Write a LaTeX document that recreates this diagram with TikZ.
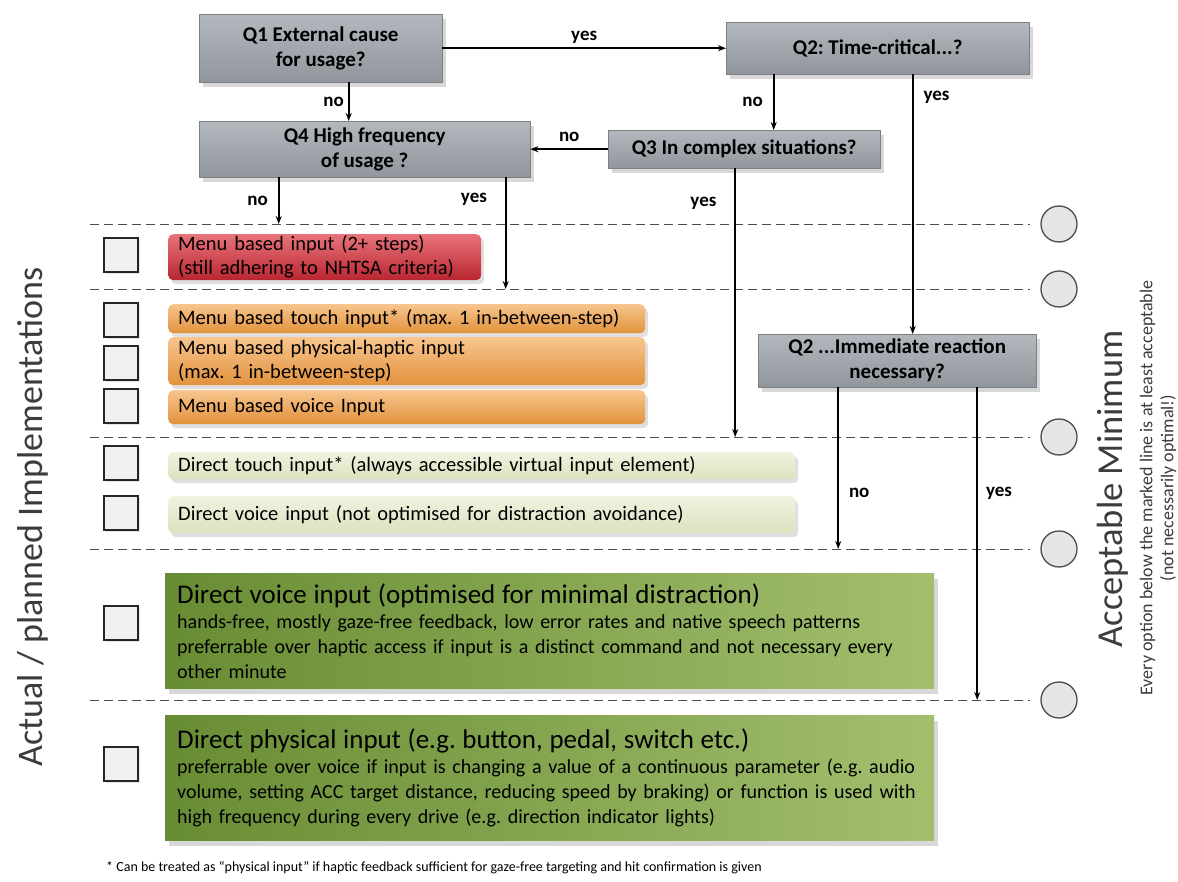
\documentclass[tikz,border=0pt]{standalone}
\usepackage{fontspec}
\setmainfont{Carlito}
\usetikzlibrary{arrows.meta,shadows}
\frenchspacing

\definecolor{qtop}{HTML}{B3B7BE}
\definecolor{qbot}{HTML}{91969D}
\definecolor{redtop}{HTML}{E8737A}
\definecolor{redbot}{HTML}{B92631}
\definecolor{oratop}{HTML}{F8C58E}
\definecolor{orabot}{HTML}{E1923C}
\definecolor{lgtop}{HTML}{F0F3E0}
\definecolor{lgbot}{HTML}{DAE2BE}
\definecolor{dgleft}{HTML}{688C34}
\definecolor{dgright}{HTML}{A2BF6E}
\definecolor{sidegray}{HTML}{3C3C3C}

\begin{document}
\begin{tikzpicture}[x=1pt,y=-1pt,>={Stealth[length=8pt,width=6pt]},
	question/.style={anchor=north west,top color=qtop,bottom color=qbot,draw=qbot!85!black,line width=0.4pt,
		drop shadow={shadow xshift=4pt,shadow yshift=-5pt,opacity=0.3},
		align=center,inner sep=0pt,font=\bfseries\fontsize{21}{25}\selectfont},
	answer/.style={font=\bfseries\fontsize{19}{22}\selectfont,inner sep=4pt},
	option/.style={anchor=north west,rounded corners=5pt,align=left,inner xsep=10pt,inner ysep=0pt,
		drop shadow={shadow xshift=3pt,shadow yshift=-4pt,opacity=0.25},font=\fontsize{20.5}{24}\selectfont},
	wide/.style={anchor=north west,align=left,inner xsep=12pt,inner ysep=0pt,left color=dgleft,right color=dgright,
		drop shadow={shadow xshift=4pt,shadow yshift=-6pt,opacity=0.3},font=\fontsize{20}{25}\selectfont},
	checkbox/.style={draw=black!85,line width=2pt,fill=black!6,minimum size=34pt,inner sep=0pt,
		drop shadow={shadow xshift=2pt,shadow yshift=-2pt,opacity=0.2}},
	gauge/.style={circle,draw=black!70,line width=1.3pt,fill=black!10,minimum size=36pt,inner sep=0pt},
	border/.style={dash pattern=on 9pt off 5pt,draw=black!70,line width=0.9pt},
	flow/.style={->,line width=1.6pt}]
	\useasboundingbox[fill=white] (0,0) rectangle (1178,882);

	% questions
	\node[question,minimum width=243pt,minimum height=68pt] (q1) at (199,14) {Q1 External cause\\for usage?};
	\node[question,minimum width=303pt,minimum height=52pt] (q2) at (726,22) {Q2: Time-critical...?};
	\node[question,minimum width=331pt,minimum height=56pt] (q4) at (199,121) {Q4 High frequency\\of usage ?};
	\node[question,minimum width=272pt,minimum height=38pt] (q3) at (608,130) {Q3 In complex situations?};
	\node[question,minimum width=278pt,minimum height=53pt] (q2b) at (758,334) {Q2 ...Immediate reaction\\necessary?};

	% acceptance levels
	\foreach \i/\y in {1/224, 2/289, 3/437, 4/549, 5/700} {
		\coordinate (l\i) at (90,\y);
		\node[gauge] (m\i) at (1059,\y) {};
		\draw[border] (l\i) -- ([xshift=-10pt]m\i.west);
	}

	% check boxes
	\foreach \i/\y in {1/255, 2/320, 3/363, 4/406, 5/463, 6/513, 7/623, 8/764} {
		\node[checkbox] (cb\i) at (121,\y) {};
	}

	% options
	\node[option,top color=redtop,bottom color=redbot,text width=293pt,minimum height=46pt] (opt1) at (168,234)
		{Menu based input (2+ steps)\\(still adhering to NHTSA criteria)};
	\node[option,top color=oratop,bottom color=orabot,text width=457pt,minimum height=29pt] (opt2) at (168,304)
		{Menu based touch input* (max. 1 in-between-step)};
	\node[option,top color=oratop,bottom color=orabot,text width=457pt,minimum height=48pt] (opt3) at (168,337)
		{Menu based physical-haptic input\\(max. 1 in-between-step)};
	\node[option,top color=oratop,bottom color=orabot,text width=457pt,minimum height=34pt] (opt4) at (168,390)
		{Menu based voice Input};
	\node[option,top color=lgtop,bottom color=lgbot,text width=607pt,minimum height=27pt] (opt5) at (168,452)
		{Direct touch input* (always accessible virtual input element)};
	\node[option,top color=lgtop,bottom color=lgbot,text width=607pt,minimum height=37pt] (opt6) at (168,496)
		{Direct voice input (not optimised for distraction avoidance)};
	\node[wide,text width=745pt,minimum height=115pt] (opt7) at (165,573)
		{{\fontsize{27}{31}\selectfont Direct voice input (optimised for minimal distraction)\par}
		hands-free, mostly gaze-free feedback, low error rates and native speech patterns\\
		preferrable over haptic access if input is a distinct command and not necessary every\\
		other minute};
	\node[wide,text width=745pt,minimum height=125pt] (opt8) at (165,715)
		{{\fontsize{27}{31}\selectfont Direct physical input (e.g. button, pedal, switch etc.)\par}
		preferrable over voice if input is changing a value of a continuous parameter (e.g. audio\\
		volume, setting ACC target distance, reducing speed by braking) or function is used with\\
		high frequency during every drive (e.g. direction indicator lights)};

	% decisions
	\draw[flow] (q1.east) -- (q1.east -| q2.west) node[answer,midway,above] {yes};
	\draw[flow] ([xshift=28pt]q1.south) -- ([xshift=28pt]q1.south |- q4.north) node[answer,midway,left] {no};
	\draw[flow] (q3.west) -- (q3.west -| q4.east) node[answer,midway,above=3pt] {no};
	\draw[flow] ([xshift=-104pt]q2.south) -- ([xshift=-104pt]q2.south |- q3.north) node[answer,midway,left=6pt] {no};
	\draw[flow] ([xshift=35pt]q2.south) -- ([xshift=35pt]q2.south |- q2b.north) node[answer,pos=0.09,right=6pt] {yes};
	\draw[flow] ([xshift=-86pt]q4.south) -- ([xshift=-86pt]q4.south |- l1) node[answer,midway,left=6pt] {no};
	\draw[flow] ([xshift=141pt]q4.south) -- ([xshift=141pt]q4.south |- l2) node[answer,pos=0.2,left=14pt] {yes};
	\draw[flow] ([xshift=-9pt]q3.south) -- ([xshift=-9pt]q3.south |- l3) node[answer,pos=0.13,left=14pt] {yes};
	\draw[flow] ([xshift=-59pt]q2b.south) -- ([xshift=-59pt]q2b.south |- l4) node[answer,pos=0.65,right=6pt] {no};
	\draw[flow] ([xshift=80pt]q2b.south) -- ([xshift=80pt]q2b.south |- l5) node[answer,pos=0.34,right=4pt] {yes};

	% side texts
	\node[rotate=90,text=sidegray,font=\fontsize{36}{40}\selectfont] (actual) at (33,517) {Actual / planned Implementations};
	\node[rotate=90,text=sidegray,font=\fontsize{36.5}{40}\selectfont] (accmin) at (1113,489) {Acceptable Minimum};
	\node[rotate=90,text=sidegray,align=center,font=\fontsize{18}{21}\selectfont] (accnote) at (1158,488)
		{Every option below the marked line is at least acceptable\\(not necessarily optimal!)};
	\node[anchor=west,inner sep=0pt,font=\fontsize{14}{16}\selectfont] (foot) at (106,868)
		{* Can be treated as “physical input” if haptic feedback sufficient for gaze-free targeting and hit confirmation is given};
\end{tikzpicture}
\end{document}
